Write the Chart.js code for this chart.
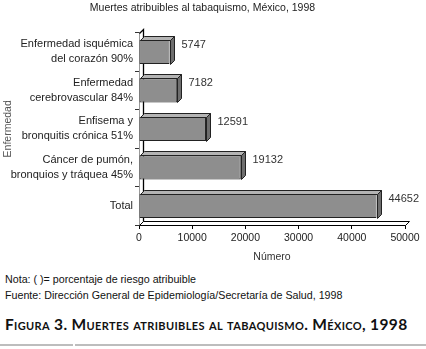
<!DOCTYPE html>
<html>
<head>
<meta charset="utf-8">
<script src="https://cdn.jsdelivr.net/npm/chart.js@4.4.1/dist/chart.umd.min.js"></script>
<style>
  html, body { margin:0; padding:0; background:#fff; }
  body { width:426px; height:349px; position:relative; overflow:hidden; }
  #wrap { position:absolute; left:0; top:0; width:426px; height:270px; }
  .note { position:absolute; left:5px; font-family:"Liberation Sans", Arial, sans-serif; font-size:10.7px; color:#111; white-space:nowrap; }
  #cap { position:absolute; left:5px; top:315px; font-family:Lato, "Open Sans", sans-serif; font-weight:bold; font-size:15.5px; font-variant:small-caps; color:#111; white-space:nowrap; letter-spacing:0.35px; }
  #rule1 { position:absolute; left:0; top:344px; width:73px; height:2px; background:#bdbdbd; }
  #rule2 { position:absolute; left:75px; top:344px; width:351px; height:2px; background:#bdbdbd; }
</style>
</head>
<body>
<div id="wrap"><canvas id="c" width="426" height="270"></canvas></div>
<div class="note" style="top:273px">Nota: ( )= porcentaje de riesgo atribuible</div>
<div class="note" style="top:289px">Fuente: Dirección General de Epidemiología/Secretaría de Salud, 1998</div>
<div id="cap">Figura 3. Muertes atribuibles al tabaquismo. México, 1998</div>
<div id="rule1"></div><div id="rule2"></div>
<script>
const categories = [
  ["Enfermedad isquémica", "del corazón 90%"],
  ["Enfermedad", "cerebrovascular 84%"],
  ["Enfisema y", "bronquitis crónica 51%"],
  ["Cáncer de pumón,", "bronquios y tráquea 45%"],
  ["Total"]
];
const deaths = [5747, 7182, 12591, 19132, 44652];
const xTicks = [0, 10000, 20000, 30000, 40000, 50000];
const chartTitle = "Muertes atribuibles al tabaquismo, México, 1998";
const xTitle = "Número";
const yTitle = "Enfermedad";

const DEPTH = 4;
const threeD = {
  id: 'threeD',
  beforeDatasetsDraw(chart) {
    const { ctx, chartArea: a } = chart;
    const d = DEPTH;
    const L = Math.round(a.left) + 0.5, R = Math.round(a.right) + 0.5;
    const T = Math.round(a.top) + 0.5, B = Math.round(a.bottom) + 0.5;
    ctx.save();
    ctx.lineWidth = 1;
    ctx.fillStyle = '#ffffff';
    ctx.strokeStyle = '#000000';
    ctx.beginPath();
    ctx.moveTo(L, B); ctx.lineTo(R, B); ctx.lineTo(R + d, B - d); ctx.lineTo(L + d, B - d); ctx.closePath();
    ctx.fill(); ctx.stroke();
    ctx.beginPath();
    ctx.moveTo(L + d, B - d); ctx.lineTo(L + d, T - d); ctx.lineTo(L, T);
    ctx.lineWidth = 1.3;
    ctx.stroke();
    ctx.restore();
  },
  afterDatasetsDraw(chart) {
    const { ctx } = chart;
    const d = DEPTH;
    const meta = chart.getDatasetMeta(0);
    ctx.save();
    ctx.lineWidth = 1;
    ctx.strokeStyle = '#222';
    meta.data.forEach((bar, i) => {
      const p = bar.getProps(['x', 'y', 'base', 'height'], true);
      const x = Math.round(p.x) + 0.5, b = Math.round(p.base) + 0.5;
      const top = Math.round(p.y - p.height / 2) + 0.5, bot = Math.round(p.y + p.height / 2) + 0.5;
      ctx.fillStyle = '#b4b4b4';
      ctx.beginPath();
      ctx.moveTo(b, top); ctx.lineTo(x, top); ctx.lineTo(x + d, top - d); ctx.lineTo(b + d, top - d); ctx.closePath();
      ctx.fill(); ctx.stroke();
      ctx.fillStyle = '#6e6e6e';
      ctx.beginPath();
      ctx.moveTo(x, top); ctx.lineTo(x + d, top - d); ctx.lineTo(x + d, bot - d); ctx.lineTo(x, bot); ctx.closePath();
      ctx.fill(); ctx.stroke();
      ctx.fillStyle = '#333';
      ctx.font = '11px "Liberation Sans", Arial, sans-serif';
      ctx.textAlign = 'left';
      ctx.textBaseline = 'middle';
      ctx.fillText(String(deaths[i]), x + d + 7, p.y - 7);
    });
    ctx.restore();
  }
};

new Chart(document.getElementById('c'), {
  type: 'bar',
  data: {
    labels: categories,
    datasets: [{
      data: deaths,
      backgroundColor: '#8e8e8e',
      borderColor: '#222',
      borderWidth: 1,
      borderSkipped: false,
      categoryPercentage: 1.0,
      barPercentage: 0.63
    }]
  },
  options: {
    indexAxis: 'y',
    responsive: false,
    animation: false,
    devicePixelRatio: 1,
    layout: { padding: { left: 0, right: 21, top: 0, bottom: 0 } },
    plugins: {
      legend: { display: false },
      tooltip: { enabled: false },
      title: {
        display: true,
        text: chartTitle,
        color: '#222',
        font: { family: '"Liberation Sans", Arial, sans-serif', size: 10.5, weight: 'normal', lineHeight: 1.2 },
        padding: { top: 2, bottom: 18 }
      }
    },
    scales: {
      x: {
        type: 'linear',
        min: 0, max: 50000,
        afterBuildTicks(s) { s.ticks = xTicks.map(v => ({ value: v })); },
        afterFit(s) { s.height = 45; },
        grid: { drawOnChartArea: false, drawTicks: true, tickLength: 4, color: '#000' },
        border: { display: false },
        ticks: {
          color: '#222', padding: 3,
          font: { family: '"Liberation Sans", Arial, sans-serif', size: 10.5 },
          maxRotation: 0,
          callback: (v) => String(v)
        },
        title: {
          display: true, text: xTitle, color: '#333',
          font: { family: '"Liberation Sans", Arial, sans-serif', size: 10.5 },
          padding: { top: 2, bottom: 7 }
        }
      },
      y: {
        type: 'category',
        afterFit(s) { s.width = 139; },
        grid: { drawOnChartArea: false, drawTicks: true, tickLength: 4, color: '#333', offset: true },
        border: { display: true, color: '#999', width: 1 },
        ticks: {
          color: '#222', padding: 2,
          font: { family: '"Liberation Sans", Arial, sans-serif', size: 11, lineHeight: 1.35 }
        },
        title: {
          display: true, text: yTitle, color: '#555',
          font: { family: '"Liberation Sans", Arial, sans-serif', size: 10.5 },
          padding: { top: 2, bottom: 0 }
        }
      }
    }
  },
  plugins: [threeD]
});
</script>
</body>
</html>
